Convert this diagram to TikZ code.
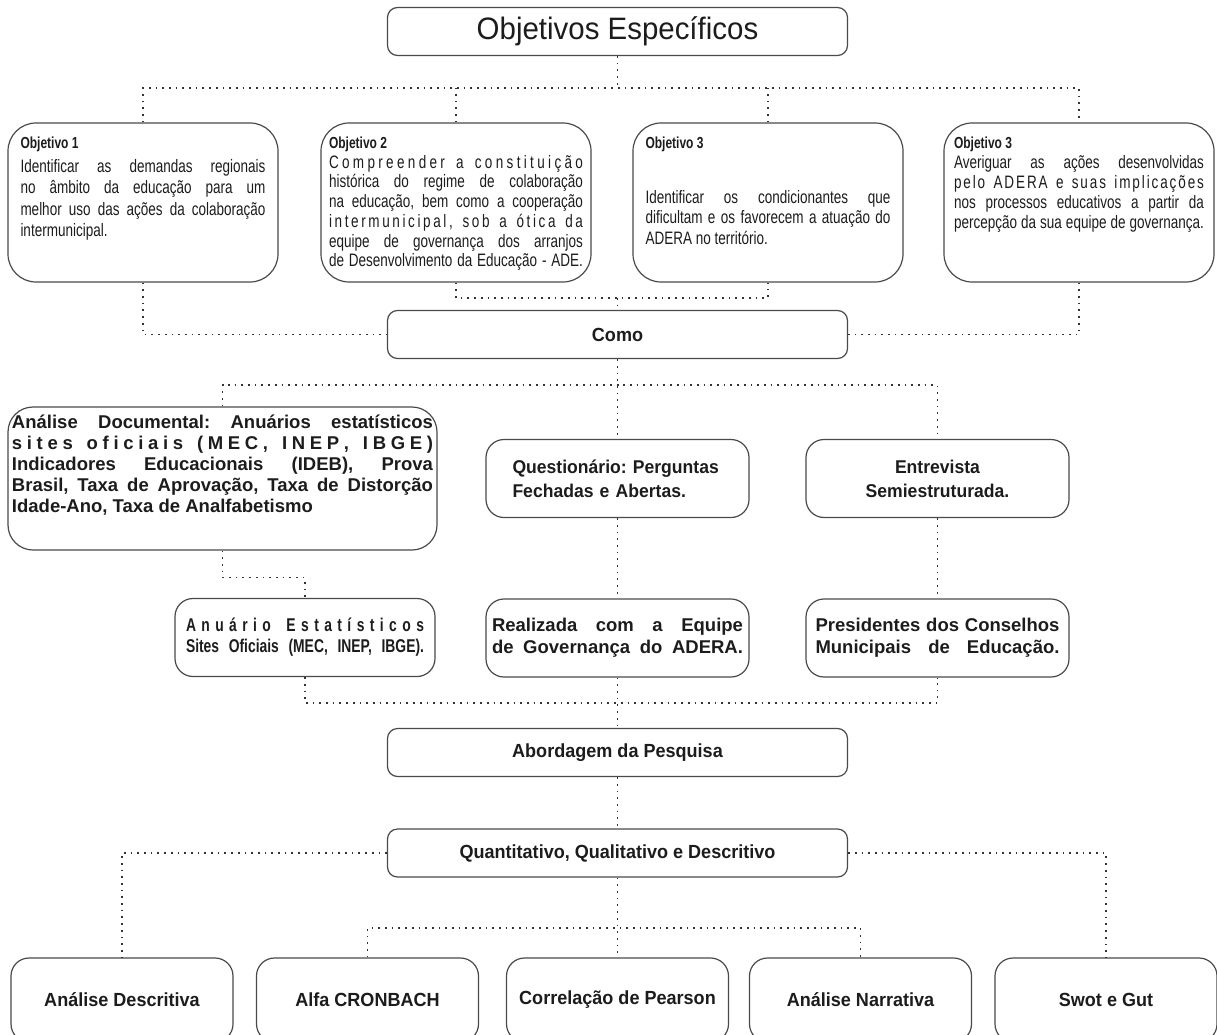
\documentclass[tikz,border=0pt]{standalone}
\usepackage{fontspec}
\setmainfont[FakeStretch=0.95]{Liberation Sans}
\newfontfamily\narrowfont[FakeStretch=0.75]{Liberation Sans}
\newfontfamily\widefont{Liberation Sans}
\frenchspacing

\definecolor{boxline}{HTML}{4A4A4A}
\definecolor{dotline}{HTML}{333333}
\definecolor{ink}{HTML}{1C1C1C}

% justified line, and line spread letter by letter
\newcommand\jl[1]{\makebox[\linewidth][s]{#1}}
\makeatletter
\def\ll@word#1{\ifx#1\relax\else#1\hskip0pt plus1fil\relax\expandafter\ll@word\fi}
\def\ll@words#1 #2\ll@end{\ll@word#1\relax\ifx\relax#2\relax\else\hskip.25em plus1fil\relax\ll@words#2\ll@end\fi}
\newcommand\letterline[1]{\leavevmode\hbox to\linewidth{\ll@words#1 \ll@end\unskip}}
\makeatother
\newcommand\otitle[1]{{\bfseries\fontsize{16}{18}\selectfont #1}}
\newcommand\objtxt[3]{\parbox[c][131pt][t]{#1}{\narrowfont\fontsize{18}{#2}\selectfont #3}}

\begin{document}
\begin{tikzpicture}[x=1pt,y=-1pt,
  every node/.style={text=ink},
  hd/.style={draw=boxline,line width=1.2pt,rounded corners=10pt,minimum width=460pt,minimum height=48pt,inner sep=0pt,font=\bfseries\fontsize{19}{23}\selectfont},
  obj/.style={draw=boxline,line width=1.2pt,rounded corners=28pt,minimum width=270pt,minimum height=159pt,inner sep=0pt},
  mth/.style={draw=boxline,line width=1.2pt,rounded corners=18pt,minimum width=263pt,minimum height=78pt,inner sep=0pt,font=\bfseries\fontsize{18.5}{24}\selectfont},
  res/.style={draw=boxline,line width=1.2pt,rounded corners=18pt,minimum width=222pt,minimum height=84pt,inner sep=0pt,font=\bfseries\fontsize{19}{23}\selectfont},
  link/.style={draw=dotline,line width=1.7pt,dash pattern=on 1.7pt off 5pt}
]
\useasboundingbox (0,0) rectangle (1217,1035);
\clip (0,0) rectangle (1217,1035);

% objectives
\node[hd,font=\fontsize{31}{36}\selectfont] (oe) at (617.5,31.5) {Objetivos Específicos};
\node[obj] (o1) at (143,202.5) {\objtxt{245pt}{21.5}{\otitle{Objetivo 1}\\[2pt]
  \jl{Identificar as demandas regionais}\\
  \jl{no âmbito da educação para um}\\
  \jl{melhor uso das ações da colaboração}\\
  intermunicipal.}};
\node[obj] (o2) at (456,202.5) {\objtxt{254pt}{19.7}{\otitle{Objetivo 2}\\
  \letterline{Compreender a constituição}\\
  \jl{histórica do regime de colaboração}\\
  \jl{na educação, bem como a cooperação}\\
  \letterline{intermunicipal, sob a ótica da}\\
  \jl{equipe de governança dos arranjos}\\
  \jl{de Desenvolvimento da Educação - ADE.}}};
\node[obj] (o3) at (768,202.5) {\objtxt{245pt}{20.5}{\otitle{Objetivo 3}\\[34pt]
  \jl{Identificar os condicionantes que}\\
  \jl{dificultam e os favorecem a atuação do}\\
  ADERA no território.}};
\node[obj] (o4) at (1079,202.5) {\objtxt{250pt}{20}{\otitle{Objetivo 3}\\
  \jl{Averiguar as ações desenvolvidas}\\
  \letterline{pelo ADERA e suas implicações}\\
  \jl{nos processos educativos a partir da}\\
  \jl{percepção da sua equipe de governança.}}};
\node[hd] (como) at (617.5,334.5) {Como};

% methods
\node[mth,rounded corners=25pt,minimum width=429pt,minimum height=143pt,
  font=\widefont\bfseries\fontsize{18.5}{21}\selectfont] (ad) at (222.5,478.5)
  {\parbox[c][127pt][t]{421pt}{\jl{Análise Documental: Anuários estatísticos}\\
  \letterline{sites oficiais (MEC, INEP, IBGE)}\\
  \jl{Indicadores Educacionais (IDEB), Prova}\\
  \jl{Brasil, Taxa de Aprovação, Taxa de Distorção}\\
  Idade-Ano, Taxa de Analfabetismo}};
\node[mth,text width=210pt,align=left] (qst) at (617.5,478.5) {Questionário: Perguntas\\Fechadas e Abertas.};
\node[mth,text width=210pt,align=center] (ent) at (937.5,478.5) {Entrevista\\Semiestruturada.};
\node[mth,minimum width=260pt,font=\narrowfont\bfseries\fontsize{18.5}{21}\selectfont] (anu) at (305,637.5)
  {\parbox{238pt}{\letterline{Anuário Estatísticos}\\\jl{Sites Oficiais (MEC, INEP, IBGE).}}};
\node[mth,font=\widefont\bfseries\fontsize{18.5}{22}\selectfont] (rea) at (617.5,638)
  {\parbox{251pt}{\jl{Realizada com a Equipe}\\\jl{de Governança do ADERA.}}};
\node[mth,font=\widefont\bfseries\fontsize{18.5}{22}\selectfont] (pre) at (937.5,638)
  {\parbox{244pt}{\jl{Presidentes dos Conselhos}\\\jl{Municipais de Educação.}}};

% approach and analyses
\node[hd] (abo) at (617.5,752.5) {Abordagem da Pesquisa};
\node[hd] (qua) at (617.5,853) {Quantitativo, Qualitativo e Descritivo};
\node[res] (d1) at (122,1000) {Análise Descritiva};
\node[res] (d2) at (367.5,1000) {Alfa CRONBACH};
\node[res] (d3) at (617.5,1000) {Correlação de Pearson};
\node[res] (d4) at (860.5,1000) {Análise Narrativa};
\node[res] (d5) at (1106,1000) {Swot e Gut};

% dotted links
\coordinate (j1) at (617.5,88);
\coordinate (j2) at (617.5,298);
\coordinate (j3) at (617.5,385);
\coordinate (j5) at (617.5,703);
\coordinate (j6) at (617.5,928);
\draw[link] (oe) -- (j1);
\draw[link] (o1.north) |- (j1) -| (o4.north);
\draw[link] (o2.north) -- (o2.north |- j1);
\draw[link] (o3.north) -- (o3.north |- j1);
\draw[link] (o1.south) |- (como.west);
\draw[link] (o4.south) |- (como.east);
\draw[link] (o2.south) |- (j2) -| (o3.south);
\draw[link] (j2) -- (como.north);
\draw[link] (como) -- (qst);
\draw[link] (ad.north) |- (j3) -| (ent.north);
\draw[link] (ad.south) -- ++(0,27) -| (anu.north);
\draw[link] (qst) -- (rea);
\draw[link] (ent) -- (pre);
\draw[link] (anu.south) |- (j5) -| (pre.south);
\draw[link] (rea) -- (abo);
\draw[link] (abo) -- (qua);
\draw[link] (qua.west) -| (d1.north);
\draw[link] (qua.east) -| (d5.north);
\draw[link] (qua) -- (d3);
\draw[link] (d2.north) |- (j6) -| (d4.north);
\end{tikzpicture}
\end{document}
